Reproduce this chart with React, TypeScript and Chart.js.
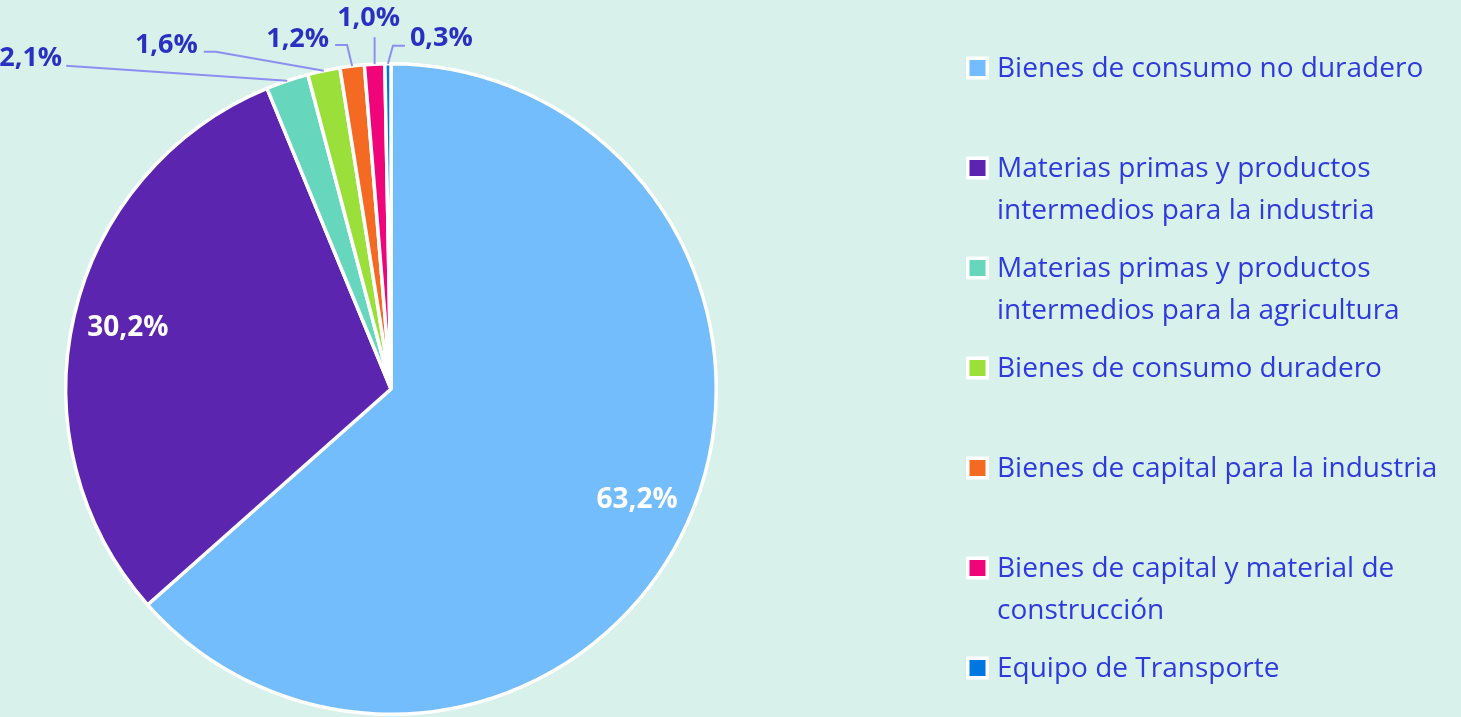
import React, { useEffect, useRef } from "react";
import { Chart, registerables } from "chart.js";

Chart.register(...registerables);

const categories = [
  "Bienes de consumo no duradero",
  "Materias primas y productos intermedios para la industria",
  "Materias primas y productos intermedios para la agricultura",
  "Bienes de consumo duradero",
  "Bienes de capital para la industria",
  "Bienes de capital y material de construcción",
  "Equipo de Transporte",
];
const values = [63.2, 30.2, 2.1, 1.6, 1.2, 1.0, 0.3];
const valueLabels = ["63,2%", "30,2%", "2,1%", "1,6%", "1,2%", "1,0%", "0,3%"];
const colors = ["#73bdfc", "#5b25b0", "#66d6bd", "#9be03a", "#f46a22", "#f0047a", "#0076e0"];

const BG = "#d8f1ea";
const FONT = "'Open Sans', 'Noto Sans', sans-serif";
const LEGEND_COLOR = "#2e3ade";
const OUT_LABEL_COLOR = "#2a30c2";
const LEADER_COLOR = "#8c8ff0";

// leader-line layout for outside labels: elbow offset from slice edge, horizontal tail, text anchor
type Leader = { ex: number; ey: number; tail: number; align: CanvasTextAlign; tx: number; ty: number };
const leaders: Record<number, Leader> = {
  2: { ex: -221, ey: -15, tail: 0, align: "right", tx: -4, ty: -7 },
  3: { ex: -108, ey: -19, tail: -12, align: "right", tx: -6, ty: -6 },
  4: { ex: -5, ey: -21, tail: -12, align: "right", tx: -6, ty: -6 },
  5: { ex: 0, ey: -27, tail: 0, align: "center", tx: -6, ty: -19 },
  6: { ex: 5, ey: -18, tail: 12, align: "left", tx: 5, ty: -7 },
};

function wrap(ctx: CanvasRenderingContext2D, text: string, maxW: number): string[] {
  const words = text.split(" ");
  const lines: string[] = [];
  let cur = "";
  for (const w of words) {
    const t = cur ? cur + " " + w : w;
    if (ctx.measureText(t).width > maxW && cur) {
      lines.push(cur);
      cur = w;
    } else cur = t;
  }
  if (cur) lines.push(cur);
  return lines;
}

const customPlugin = {
  id: "custom",
  beforeDraw(chart: any) {
    const ctx = chart.ctx as CanvasRenderingContext2D;
    ctx.save();
    ctx.fillStyle = BG;
    ctx.fillRect(0, 0, chart.width, chart.height);
    ctx.restore();
  },
  afterDraw(chart: any) {
    const ctx = chart.ctx as CanvasRenderingContext2D;
    const meta = chart.getDatasetMeta(0);
    ctx.save();
    meta.data.forEach((arc: any, i: number) => {
      const p = arc.getProps(["x", "y", "startAngle", "endAngle", "outerRadius"], true);
      const mid = (p.startAngle + p.endAngle) / 2;
      if (i < 2) {
        const r = p.outerRadius * 0.83;
        ctx.font = `bold 28px ${FONT}`;
        ctx.fillStyle = "#ffffff";
        ctx.textAlign = "center";
        ctx.textBaseline = "middle";
        ctx.fillText(valueLabels[i], p.x + Math.cos(mid) * r, p.y + Math.sin(mid) * r);
      } else {
        const L = leaders[i];
        const sx = p.x + Math.cos(mid) * p.outerRadius;
        const sy = p.y + Math.sin(mid) * p.outerRadius;
        const ex = sx + L.ex;
        const ey = sy + L.ey;
        const fx = ex + L.tail;
        ctx.strokeStyle = LEADER_COLOR;
        ctx.lineWidth = 2;
        ctx.beginPath();
        ctx.moveTo(sx, sy);
        ctx.lineTo(ex, ey);
        ctx.lineTo(fx, ey);
        ctx.stroke();
        ctx.font = `bold 27px ${FONT}`;
        ctx.fillStyle = OUT_LABEL_COLOR;
        ctx.textAlign = L.align;
        ctx.textBaseline = "middle";
        ctx.fillText(valueLabels[i], fx + L.tx, ey + L.ty);
      }
    });

    // legend
    const markerX = 966;
    const textX = 997;
    const firstY = 68;
    const step = 100;
    const lineH = 42;
    ctx.font = `28px ${FONT}`;
    ctx.textAlign = "left";
    ctx.textBaseline = "middle";
    categories.forEach((c, i) => {
      const y = firstY + i * step;
      ctx.fillStyle = "#ffffff";
      ctx.fillRect(markerX, y - 11.5, 23, 23);
      ctx.fillStyle = colors[i];
      ctx.fillRect(markerX + 3.5, y - 8, 16, 16);
      const lines = wrap(ctx, c, chart.width - textX - 4);
      ctx.fillStyle = LEGEND_COLOR;
      lines.forEach((ln, k) => ctx.fillText(ln, textX, y + k * lineH + 1));
    });
    ctx.restore();
  },
};

export default function App() {
  const ref = useRef<HTMLCanvasElement | null>(null);
  useEffect(() => {
    document.body.style.margin = "0";
    document.body.style.background = BG;
    const chart = new Chart(ref.current as HTMLCanvasElement, {
      type: "pie",
      data: {
        labels: categories,
        datasets: [
          {
            data: values,
            backgroundColor: colors,
            borderColor: "#ffffff",
            borderWidth: 3.5,
            hoverBorderWidth: 3.5,
            hoverOffset: 0,
          },
        ],
      },
      options: {
        animation: false,
        responsive: false,
        layout: { padding: { top: 62, bottom: 1, left: 64, right: 743 } },
        plugins: { legend: { display: false }, tooltip: { enabled: false } },
        events: [],
      },
      plugins: [customPlugin],
    });
    return () => chart.destroy();
  }, []);
  return (
    <canvas
      ref={ref}
      width={1461}
      height={717}
      style={{ display: "block", width: 1461, height: 717 }}
    />
  );
}
